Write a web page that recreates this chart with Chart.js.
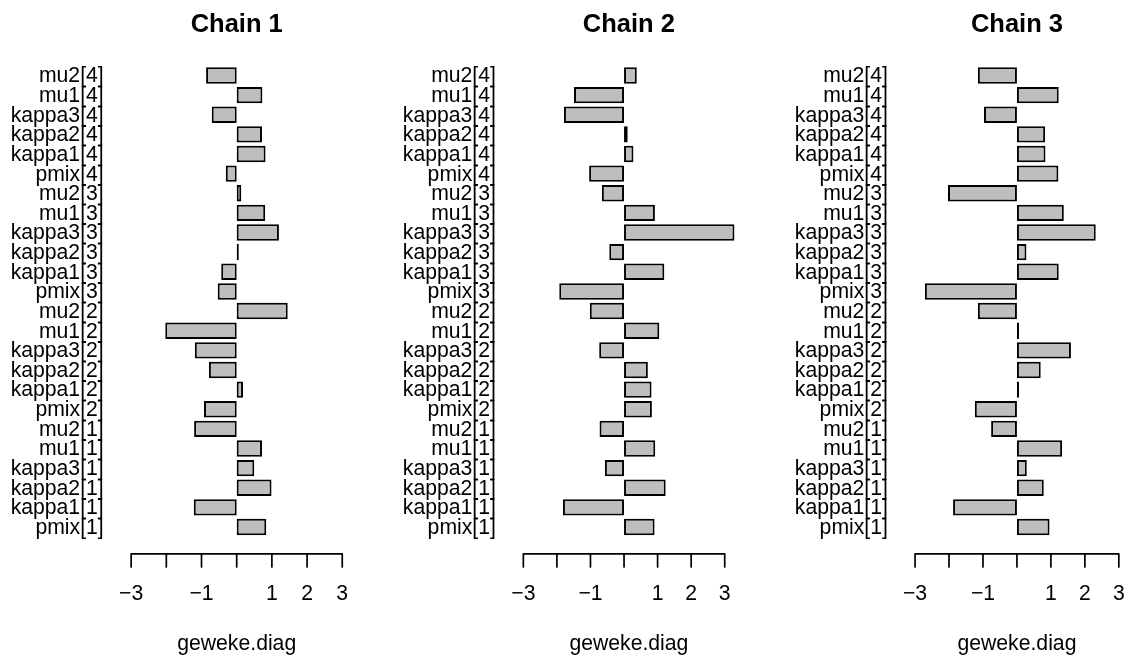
<!DOCTYPE html>
<html>
<head>
<meta charset="utf-8">
<title>Geweke diagnostics</title>
<script src="https://cdn.jsdelivr.net/npm/chart.js@4/dist/chart.umd.min.js"></script>
<style>
  html, body { margin: 0; padding: 0; background: #ffffff; }
  #wrap { position: relative; width: 1140px; height: 658px; overflow: hidden; background: #ffffff; }
  .panel { position: absolute; top: 0; width: 380px; height: 658px; }
  .panel canvas { display: block; }
</style>
</head>
<body>
<div id="wrap">
  <div class="panel" style="left:0px"><canvas id="chain1" width="380" height="658"></canvas></div>
  <div class="panel" style="left:380px"><canvas id="chain2" width="380" height="658"></canvas></div>
  <div class="panel" style="left:760px"><canvas id="chain3" width="380" height="658"></canvas></div>
</div>
<script>
// Parameters, listed from the bottom bar upwards
const params = [
  'pmix[1]', 'kappa1[1]', 'kappa2[1]', 'kappa3[1]', 'mu1[1]', 'mu2[1]',
  'pmix[2]', 'kappa1[2]', 'kappa2[2]', 'kappa3[2]', 'mu1[2]', 'mu2[2]',
  'pmix[3]', 'kappa1[3]', 'kappa2[3]', 'kappa3[3]', 'mu1[3]', 'mu2[3]',
  'pmix[4]', 'kappa1[4]', 'kappa2[4]', 'kappa3[4]', 'mu1[4]', 'mu2[4]'
];

// Geweke z-scores per chain (same order as params)
const chain1 = [
  0.84, -1.22, 0.99, 0.50, 0.72, -1.21,
  -0.93, 0.18, -0.79, -1.19, -2.03, 1.45,
  -0.54, -0.44, 0.06, 1.20, 0.81, 0.13,
  -0.31, 0.82, 0.72, -0.71, 0.73, -0.87
];
const chain2 = [
  0.91, -1.82, 1.24, -0.57, 0.93, -0.73,
  0.83, 0.82, 0.71, -0.74, 1.05, -1.02,
  -1.93, 1.20, -0.44, 3.29, 0.92, -0.66,
  -1.04, 0.28, 0.11, -1.79, -1.49, 0.38
];
const chain3 = [
  0.96, -1.88, 0.79, 0.29, 1.33, -0.76,
  -1.24, 0.06, 0.70, 1.59, 0.06, -1.15,
  -2.71, 1.23, 0.28, 2.32, 1.38, -2.03,
  1.22, 0.84, 0.83, -0.97, 1.23, -1.15
];

const chainTitles = ['Chain 1', 'Chain 2', 'Chain 3'];
const tickValues = [-3, -2, -1, 0, 1, 2, 3];
const tickLabels = ['\u22123', '', '\u22121', '', '1', '2', '3'];
const axisTitle = 'geweke.diag';

// ---- layout / style ----
const FONT = "'Liberation Sans', Arial, Helvetica, sans-serif";
const LW = 1.7;
const BAR_LW = 2;
const TICK_LEN = 13;
const PANEL_W = 380;
const PLOT_W = 228;
const PLOT_LEFT = [122.7, 514.9, 906.9];
const CANVAS_H = 658;
const PLOT_BOTTOM = 553.9;
const BASE_SIZE = 21.2;

Chart.defaults.font.family = FONT;
Chart.defaults.color = '#000000';

// barplot slots: bar width 1, gap 0.2, first bar at the bottom
const SPACE = 0.2, WIDTH = 1;
const centers = params.map((_, i) => (i + 1) * (SPACE + WIDTH) - WIDTH / 2);
const slotLo = SPACE, slotHi = params.length * (SPACE + WIDTH);
const slotPad = (slotHi - slotLo) * 0.04;

function valueRange(vals) {
  const lo = Math.min(tickValues[0], ...vals);
  const hi = Math.max(tickValues[tickValues.length - 1], ...vals);
  const pad = (hi - lo) * 0.04;
  return [lo - pad, hi + pad];
}

// bottom axis: line from the first to the last tick, with tick marks pointing down
const axisLine = {
  id: 'axisLine',
  afterDraw(chart) {
    const xs = chart.scales.x;
    const ctx = chart.ctx;
    const y = chart.chartArea.bottom;
    ctx.save();
    ctx.strokeStyle = '#000000';
    ctx.lineWidth = LW;
    ctx.lineCap = 'round';
    ctx.beginPath();
    ctx.moveTo(xs.getPixelForTick(0), y);
    ctx.lineTo(xs.getPixelForTick(xs.ticks.length - 1), y);
    xs.ticks.forEach((t, i) => {
      const px = xs.getPixelForTick(i);
      ctx.moveTo(px, y);
      ctx.lineTo(px, y + TICK_LEN);
    });
    ctx.stroke();
    ctx.restore();
  }
};

function makePanel(canvasId, idx, values) {
  const [xmin, xmax] = valueRange(values);
  const canvasLeft = idx * PANEL_W;
  const yAxisW = PLOT_LEFT[idx] - canvasLeft;
  const rightPad = PANEL_W - yAxisW - PLOT_W;

  new Chart(document.getElementById(canvasId), {
    type: 'bar',
    data: {
      datasets: [{
        data: values.map((v, i) => ({ x: v, y: centers[i] })),
        backgroundColor: '#BEBEBE',
        borderColor: '#000000',
        borderWidth: BAR_LW,
        borderSkipped: false,
        barPercentage: 0.835,
        categoryPercentage: 1
      }]
    },
    options: {
      indexAxis: 'y',
      responsive: false,
      animation: false,
      events: [],
      layout: { padding: { left: 0, right: rightPad, top: 0, bottom: 0 } },
      plugins: {
        legend: { display: false },
        tooltip: { enabled: false },
        title: {
          display: true,
          text: chainTitles[idx],
          fullSize: false,
          color: '#000000',
          font: { size: 25.5, weight: 'bold' },
          padding: { top: 10, bottom: 8 }
        }
      },
      scales: {
        x: {
          type: 'linear',
          position: 'bottom',
          min: xmin,
          max: xmax,
          afterBuildTicks: s => { s.ticks = tickValues.map(v => ({ value: v })); },
          afterFit: s => { s.height = CANVAS_H - PLOT_BOTTOM; },
          ticks: {
            autoSkip: false,
            maxRotation: 0,
            padding: 14.8,
            font: { size: BASE_SIZE },
            color: '#000000',
            callback: (v, i) => tickLabels[i]
          },
          grid: {
            display: false,
            drawOnChartArea: false,
            drawTicks: true,
            tickLength: TICK_LEN
          },
          border: { display: false },
          title: {
            display: true,
            text: axisTitle,
            color: '#000000',
            font: { size: BASE_SIZE },
            padding: { top: 0, bottom: 1.1 }
          }
        },
        y: {
          type: 'linear',
          position: 'left',
          offset: false,
          min: slotLo - slotPad,
          max: slotHi + slotPad,
          afterBuildTicks: s => { s.ticks = centers.map(v => ({ value: v })); },
          afterFit: s => { s.width = yAxisW; },
          ticks: {
            autoSkip: false,
            padding: 19,
            labelOffset: 1,
            font: { size: BASE_SIZE },
            color: '#000000',
            callback: (v, i) => params[i]
          },
          grid: { display: false, drawTicks: false, offset: false },
          border: { display: false }
        }
      }
    },
    plugins: [axisLine]
  });
}

makePanel('chain1', 0, chain1);
makePanel('chain2', 1, chain2);
makePanel('chain3', 2, chain3);
</script>
</body>
</html>
